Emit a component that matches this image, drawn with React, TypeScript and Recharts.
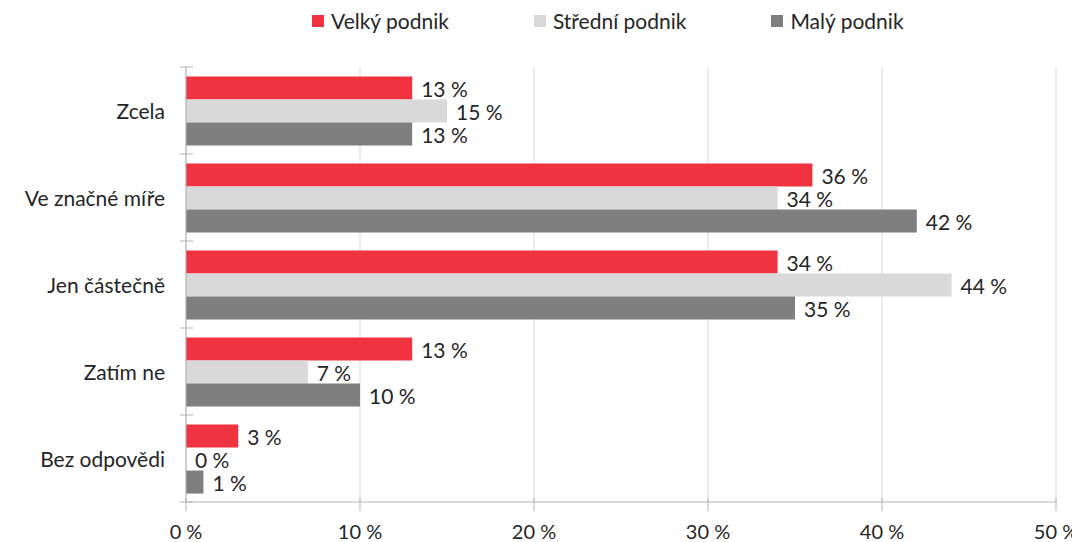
import React from 'react';
import { BarChart, Bar, XAxis, YAxis, CartesianGrid, Legend, LabelList } from 'recharts';

const categories = ['Zcela', 'Ve značné míře', 'Jen částečně', 'Zatím ne', 'Bez odpovědi'];
const velkyPodnik = [13, 36, 34, 13, 3];
const stredniPodnik = [15, 34, 44, 7, 0];
const malyPodnik = [13, 42, 35, 10, 1];
const xTicks = [0, 10, 20, 30, 40, 50];

const seriesNames = ['Velký podnik', 'Střední podnik', 'Malý podnik'];
const seriesColors = ['#ef3340', '#d9d9d9', '#7f7f7f'];

const data = categories.map((name, i) => ({
  name,
  velky: velkyPodnik[i],
  stredni: stredniPodnik[i],
  maly: malyPodnik[i],
}));

const WIDTH = 1072;
const HEIGHT = 534;
const MARGIN = { top: 59, right: 24, bottom: 0, left: 0 };
const Y_AXIS_W = 178;
const X_AXIS_H = 40;
const PLOT_H = HEIGHT - MARGIN.top - MARGIN.bottom - X_AXIS_H;
const BAND = PLOT_H / categories.length;

const FONT = 'Lato, "Open Sans", sans-serif';
const TEXT = '#262626';
const AXIS = '#b3b3b3';

const pct = (v: any) => `${v} %`;

// zero bars get dropped, keep a hairline so the "0 %" label still shows
const keepZero = (v: any) => (v === 0 ? 0.01 : 0);

const YTick = (props: any) => {
  const { x, y, payload, index } = props;
  return (
    <g>
      <text x={x} y={y} textAnchor="end" dominantBaseline="central" fill={TEXT} fontSize={21} fontFamily={FONT}>
        {payload.value}
      </text>
      <line x1={Y_AXIS_W - 6} x2={Y_AXIS_W + 7} y1={y - BAND / 2} y2={y - BAND / 2} stroke={AXIS} />
      {index === categories.length - 1 && (
        <line x1={Y_AXIS_W - 6} x2={Y_AXIS_W + 7} y1={y + BAND / 2} y2={y + BAND / 2} stroke={AXIS} />
      )}
    </g>
  );
};

const XTick = (props: any) => {
  const { x, y, payload } = props;
  return (
    <g>
      <line x1={x} x2={x} y1={y - 6} y2={y + 7} stroke={AXIS} />
      <text x={x} y={y + 27} textAnchor="middle" dominantBaseline="central" fill={TEXT} fontSize={20} fontFamily={FONT}>
        {pct(payload.value)}
      </text>
    </g>
  );
};

const ValueLabel = (props: any) => {
  const vb = props.viewBox ?? props;
  const { x, y, width, height } = vb;
  return (
    <text x={x + width + 9} y={y + height / 2} dominantBaseline="central" fill={TEXT} fontSize={21} fontFamily={FONT}>
      {pct(props.value)}
    </text>
  );
};

const renderLegend = () => (
  <div style={{ display: 'flex', gap: 85, paddingLeft: 304, fontFamily: FONT, fontSize: 21, color: TEXT }}>
    {seriesNames.map((n, i) => (
      <div key={n} style={{ display: 'flex', alignItems: 'center' }}>
        <span style={{ width: 12, height: 12, background: seriesColors[i], marginRight: 7, display: 'inline-block' }} />
        <span>{n}</span>
      </div>
    ))}
  </div>
);

export default function App() {
  return (
    <BarChart
      width={WIDTH}
      height={HEIGHT}
      data={data}
      layout="vertical"
      margin={MARGIN}
      barCategoryGap="11%"
      barGap={0}
    >
      <CartesianGrid horizontal={false} stroke="#d9d9d9" />
      <XAxis
        type="number"
        domain={[0, 50]}
        ticks={xTicks}
        height={X_AXIS_H}
        axisLine={{ stroke: AXIS }}
        tickLine={false}
        tickSize={0}
        tick={<XTick />}
        interval={0}
      />
      <YAxis
        type="category"
        dataKey="name"
        width={Y_AXIS_W}
        axisLine={{ stroke: AXIS }}
        tickLine={false}
        tickSize={0}
        tickMargin={21}
        tick={<YTick />}
        interval={0}
      />
      <Legend verticalAlign="middle" align="center" layout="horizontal" content={renderLegend} wrapperStyle={{ top: 0, left: 0, width: WIDTH }} />
      <Bar dataKey="velky" name={seriesNames[0]} fill={seriesColors[0]} isAnimationActive={false}>
        <LabelList dataKey="velky" content={<ValueLabel />} />
      </Bar>
      <Bar dataKey="stredni" name={seriesNames[1]} fill={seriesColors[1]} minPointSize={keepZero} isAnimationActive={false}>
        <LabelList dataKey="stredni" content={<ValueLabel />} />
      </Bar>
      <Bar dataKey="maly" name={seriesNames[2]} fill={seriesColors[2]} isAnimationActive={false}>
        <LabelList dataKey="maly" content={<ValueLabel />} />
      </Bar>
    </BarChart>
  );
}
